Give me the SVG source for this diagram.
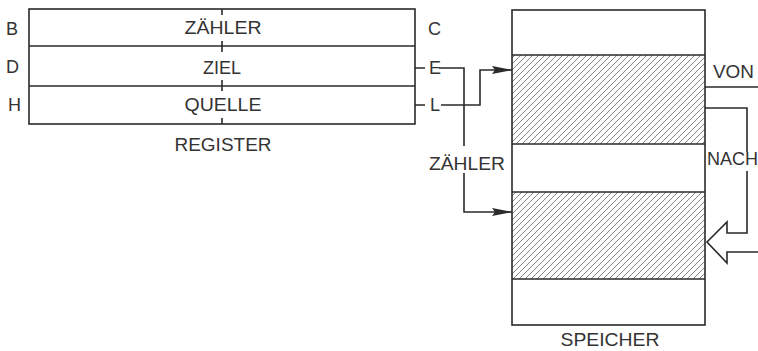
<svg xmlns="http://www.w3.org/2000/svg" width="758" height="351" viewBox="0 0 758 351">
<defs>
<style>
.ln{fill:none;stroke:#2a2a2a;stroke-width:1.6}
.tx{font-family:"Liberation Sans",Arial,sans-serif;font-size:18px;fill:#333}
.c{text-anchor:middle}
</style>
<pattern id="hatch" patternUnits="userSpaceOnUse" width="6" height="6">
<path d="M0,6 L6,0 M-1,1 L1,-1 M5,7 L7,5" stroke="#666" stroke-width="0.8"/>
</pattern>
<marker id="ah" markerWidth="20" markerHeight="10" refX="20" refY="5" orient="auto" markerUnits="userSpaceOnUse">
<path d="M0,1 L20,5 L0,9 L3,5 Z" fill="#2a2a2a"/>
</marker>
</defs>
<rect width="758" height="351" fill="#fff"/>

<g id="register">
<rect x="29" y="9" width="386" height="115" class="ln"/>
<line x1="29" y1="46" x2="415" y2="46" class="ln"/>
<line x1="29" y1="86" x2="415" y2="86" class="ln"/>
<path d="M222,9 V15 M222,41 V52 M222,80 V91 M222,118 V124" class="ln"/>
<text x="223" y="34" class="tx c" textLength="77" lengthAdjust="spacingAndGlyphs">ZÄHLER</text>
<text x="222" y="74" class="tx c" textLength="38" lengthAdjust="spacingAndGlyphs">ZIEL</text>
<text x="223" y="111" class="tx c" textLength="77" lengthAdjust="spacingAndGlyphs">QUELLE</text>
<text x="223" y="151" class="tx c" textLength="97" lengthAdjust="spacingAndGlyphs">REGISTER</text>
<text x="6" y="35" class="tx">B</text>
<text x="6" y="73" class="tx">D</text>
<text x="8" y="111" class="tx">H</text>
<text x="428" y="35" class="tx">C</text>
<text x="429" y="74" class="tx">E</text>
<text x="430" y="111" class="tx">L</text>
</g>

<g id="speicher">
<rect x="512" y="55" width="193" height="89" fill="url(#hatch)"/>
<rect x="512" y="192" width="193" height="87" fill="url(#hatch)"/>
<rect x="512" y="10" width="193" height="315" class="ln"/>
<line x1="512" y1="55" x2="705" y2="55" class="ln"/>
<line x1="512" y1="144" x2="705" y2="144" class="ln"/>
<line x1="512" y1="192" x2="705" y2="192" class="ln"/>
<line x1="512" y1="279" x2="705" y2="279" class="ln"/>
<text x="610" y="346" class="tx c" textLength="99" lengthAdjust="spacingAndGlyphs">SPEICHER</text>
</g>

<g id="labels">
<text x="467" y="170" class="tx c" textLength="76" lengthAdjust="spacingAndGlyphs">ZÄHLER</text>
<text x="713" y="78" class="tx" textLength="41" lengthAdjust="spacingAndGlyphs">VON</text>
<text x="707" y="165" class="tx">NACH</text>
</g>

<g id="connectors">
<path d="M415,68 H425 M415,105 H425" class="ln"/>
<path d="M439,68 H464 V146" class="ln"/>
<path d="M464,173 V212 H512" class="ln" marker-end="url(#ah)"/>
<path d="M441,105 H480 V70 H512" class="ln" marker-end="url(#ah)"/>
<path d="M705,87 H758" class="ln"/>
<path d="M705,108 H747 V152 M747,171 V233 H727 V222 L707,242 L727,263 V252 H758" class="ln" stroke-linejoin="miter"/>
</g>
</svg>
